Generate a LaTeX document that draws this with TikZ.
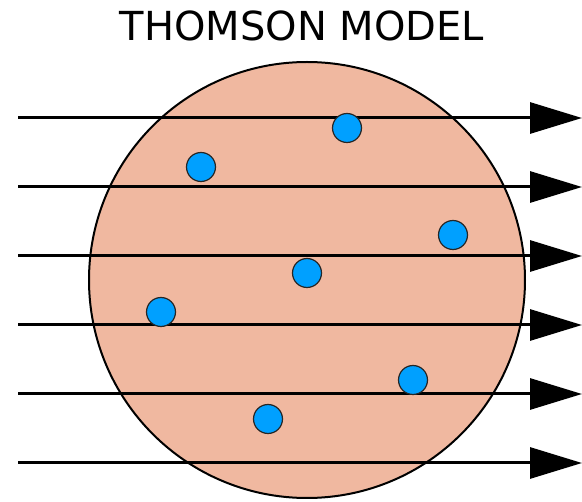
\documentclass[tikz,border=0pt]{standalone}
\usepackage{fontspec}
\setmainfont{DejaVu Sans}
\usetikzlibrary{arrows.meta}
\definecolor{sphere}{RGB}{240,184,160}
\definecolor{electron}{RGB}{0,160,255}
\tikzset{
  ray/.style={line width=3pt, draw=black, -{Triangle[length=52pt,width=31pt]}},
  electronball/.style={circle, draw=black!85, line width=1.2pt, fill=electron, minimum size=29pt, inner sep=0pt},
}
\begin{document}
\begin{tikzpicture}[x=1pt,y=-1pt]
\useasboundingbox (0,0) rectangle (582,502);
\node (title) at (302,26) {\fontsize{40}{40}\selectfont THOMSON MODEL};
\node[circle, draw=black, line width=2pt, fill=sphere, minimum size=436pt, inner sep=0pt] (sphere) at (307,280) {};
\foreach \i/\y in {1/118,2/187,3/256,4/325,5/394,6/463}{
  \coordinate (s\i) at (18,\y);
  \coordinate (e\i) at (582,\y);
  \draw[ray] (s\i) -- (e\i);
}
\node[electronball] (el1) at (347,128) {};
\node[electronball] (el2) at (201,167) {};
\node[electronball] (el3) at (453,235) {};
\node[electronball] (el4) at (307,273) {};
\node[electronball] (el5) at (161,312) {};
\node[electronball] (el6) at (413,380) {};
\node[electronball] (el7) at (268,419) {};
\end{tikzpicture}
\end{document}
